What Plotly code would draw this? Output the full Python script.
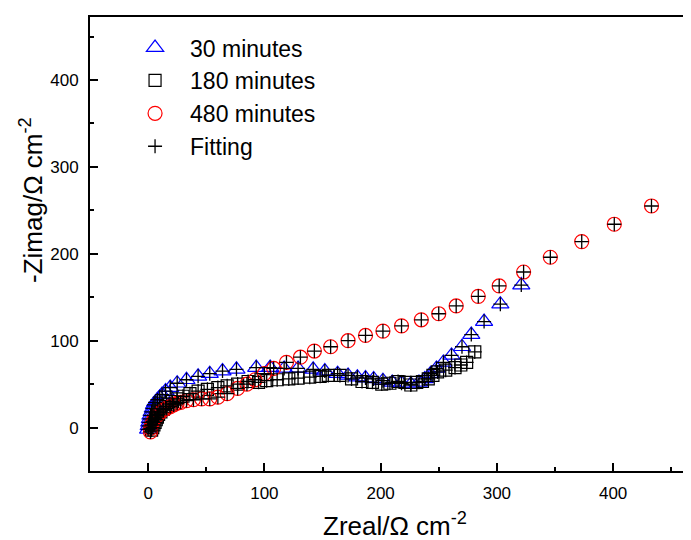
import plotly.graph_objects as go

# 30 minutes
x_30 = [0, 0.5, 1, 1.5, 2, 3, 4, 5, 6, 8, 10, 12, 15, 19, 25, 33, 43, 53, 64, 76, 93, 105,
        117, 129, 142, 152, 163, 172, 180, 187, 194, 202, 210, 218, 226, 233, 238, 243, 248,
        254, 261, 270, 278, 289, 303, 321]
y_30 = [-2, 2, 6, 10, 14, 18, 22, 26, 29, 32, 35, 38, 42, 46, 51, 55, 59, 62, 65, 67, 69, 69,
        68, 68, 67, 65, 62, 60, 58, 57, 56, 54, 52, 51, 50, 52, 56, 62, 68,
        75, 83, 93, 107, 122, 142, 164]

# 180 minutes
x_180 = [3, 4, 5, 6, 7, 8, 9, 11, 13, 15, 18, 21, 25, 30, 36, 43, 51, 60, 68, 77, 86, 95, 102,
         111, 121, 129, 139, 148, 155, 165, 175, 184, 193, 201, 208, 215, 221, 226, 231, 236,
         241, 245, 249, 256, 264, 269, 274, 281]
y_180 = [-3, 0, 3, 6, 9, 12, 15, 18, 21, 24, 27, 30, 33, 36, 39, 42, 44, 46, 48, 50, 53, 52, 54,
         55, 56, 57, 58, 59, 60, 60, 56, 53, 52, 50, 51, 53, 52, 49, 52, 53,
         56, 60, 64, 66, 69, 72, 75, 87]

# 480 minutes
x_480 = [2, 2, 3, 4, 6, 8, 10, 13, 16, 19, 22, 25, 28, 33, 39, 46, 53, 60, 68, 77, 85, 92, 100,
         108, 119, 131, 143, 157, 172, 187, 202, 218, 235, 250, 265, 284, 302, 323, 346, 373,
         401, 433]
y_480 = [-5, -1, 3, 7, 11, 14, 17, 20, 22, 24, 26, 28, 29, 31, 32, 33, 33, 35, 39, 45, 50, 55, 62,
         68, 75, 81, 88, 93, 100, 106, 111, 117, 124, 131, 140, 151, 163, 179, 196, 214,
         234, 255]

font = "Arial, Liberation Sans, sans-serif"

fig = go.Figure()

fig.add_trace(go.Scatter(x=x_30, y=y_30, mode="markers", name="30 minutes",
                         marker=dict(symbol="triangle-up-open", size=15, color="#0000ff",
                                     line=dict(width=1.2))))
fig.add_trace(go.Scatter(x=x_180, y=y_180, mode="markers", name="180 minutes",
                         marker=dict(symbol="square-open", size=12, color="#000000",
                                     line=dict(width=1.2))))
fig.add_trace(go.Scatter(x=x_480, y=y_480, mode="markers", name="480 minutes",
                         marker=dict(symbol="circle-open", size=14, color="#ff0000",
                                     line=dict(width=1.2))))

# fitting crosses over every series
for i, (xs, ys) in enumerate([(x_30, y_30), (x_180, y_180), (x_480, y_480)]):
    fig.add_trace(go.Scatter(x=xs, y=ys, mode="markers", name="Fitting",
                             showlegend=(i == 0),
                             marker=dict(symbol="cross-thin-open", size=10, color="#000000",
                                         line=dict(width=1.3, color="#000000"))))

axis_common = dict(
    showgrid=False, zeroline=False, showline=True, linecolor="black", linewidth=2,
    ticks="inside", ticklen=8, tickwidth=2, tickcolor="black", automargin=False,
    ticklabelstandoff=6,
    tickfont=dict(family=font, size=17, color="black"),
    minor=dict(ticks="inside", ticklen=4, tickwidth=2, tickcolor="black", dtick=50),
)

# page body adds an 8px margin, so the figure is sized/offset to compensate
fig.update_layout(
    width=683, height=532,
    margin=dict(l=82, r=0, t=9, b=69),
    paper_bgcolor="white", plot_bgcolor="white",
    font=dict(family=font, color="black"),
    xaxis=dict(axis_common, range=[-50, 467], dtick=100, mirror=True),
    yaxis=dict(axis_common, range=[-50, 472.5], dtick=100),
    legend=dict(x=0.05, y=0.98, xanchor="left", yanchor="top",
                font=dict(size=23, family=font), bgcolor="rgba(0,0,0,0)",
                itemwidth=60),
    showlegend=True,
    annotations=[
        dict(text="Zreal/Ω cm<sup>-2</sup>", xref="paper", yref="paper",
             x=0.5075, y=-0.117, xanchor="center", yanchor="middle",
             showarrow=False, font=dict(size=26)),
        dict(text="-Zimag/Ω cm<sup>-2</sup>", xref="paper", yref="paper",
             x=-0.0965, y=0.597, xanchor="center", yanchor="middle",
             textangle=-90, showarrow=False, font=dict(size=26)),
    ],
)

fig.write_html("out.html")
